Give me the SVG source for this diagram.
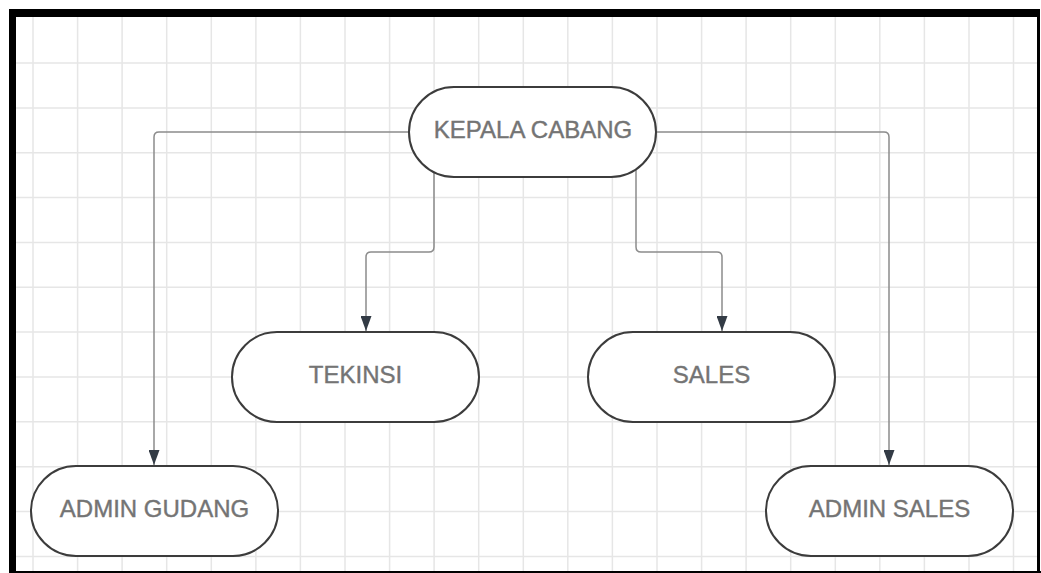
<svg xmlns="http://www.w3.org/2000/svg" width="1041" height="573" viewBox="0 0 1041 573">
  <style>
    .grid { stroke: #e6e6e6; stroke-width: 1.5; fill: none; }
    .frame { fill: #000000; }
    .node rect { fill: #ffffff; stroke: #3c3c3c; stroke-width: 2; }
    .node text { font-family: "Liberation Sans", Arial, sans-serif; font-size: 24px; fill: #747474; stroke: #747474; stroke-width: 0.4; text-anchor: middle; }
    .conn { fill: none; stroke: #8c8c8c; stroke-width: 1.5; marker-end: url(#arrow); }
  </style>
  <defs>
    <marker id="arrow" markerUnits="userSpaceOnUse" markerWidth="15" markerHeight="11" viewBox="0 0 15 11" refX="15" refY="5.5" orient="auto">
      <path d="M0,0 L15,5.5 L0,11 Z" fill="#333b45"/>
    </marker>
  </defs>
  <rect x="0" y="0" width="1041" height="573" fill="#ffffff"/>
  <g id="grid">
    <path class="grid" d="M33,17 V573 M77.6,17 V573 M122.1,17 V573 M166.7,17 V573 M211.3,17 V573 M255.9,17 V573 M300.4,17 V573 M345,17 V573 M389.6,17 V573 M434.1,17 V573 M478.7,17 V573 M523.3,17 V573 M567.8,17 V573 M612.4,17 V573 M657,17 V573 M701.6,17 V573 M746.1,17 V573 M790.7,17 V573 M835.3,17 V573 M879.8,17 V573 M924.4,17 V573 M969,17 V573 M1013.5,17 V573"/>
    <path class="grid" d="M16,63 H1037 M16,107.9 H1037 M16,152.7 H1037 M16,197.6 H1037 M16,242.4 H1037 M16,287.3 H1037 M16,332.1 H1037 M16,377 H1037 M16,421.8 H1037 M16,466.7 H1037 M16,511.5 H1037 M16,556.4 H1037"/>
  </g>
  <g id="frame">
    <rect class="frame" x="9" y="9" width="1031" height="8"/>
    <rect class="frame" x="9" y="9" width="7" height="564"/>
    <rect class="frame" x="1037" y="9" width="3" height="564"/>
    <rect class="frame" x="9" y="571" width="1032" height="2"/>
  </g>
  <g id="connectors">
    <path class="conn" d="M409,132 H159 Q154,132 154,137 V465"/>
    <path class="conn" d="M656,132 H884 Q889,132 889,137 V465"/>
    <path class="conn" d="M434,170 V247 Q434,252 429,252 H371 Q366,252 366,257 V331"/>
    <path class="conn" d="M636,170 V247 Q636,252 641,252 H717 Q722,252 722,257 V331"/>
  </g>
  <g id="kepala-cabang" class="node">
    <rect x="409" y="87" width="247" height="90" rx="45" ry="45"/>
    <text x="533" y="138">KEPALA CABANG</text>
  </g>
  <g id="tekinsi" class="node">
    <rect x="232" y="332" width="247" height="90" rx="45" ry="45"/>
    <text x="355.5" y="383">TEKINSI</text>
  </g>
  <g id="sales" class="node">
    <rect x="588" y="332" width="247" height="90" rx="45" ry="45"/>
    <text x="711.5" y="383">SALES</text>
  </g>
  <g id="admin-gudang" class="node">
    <rect x="31" y="466" width="247" height="90" rx="45" ry="45"/>
    <text x="154.5" y="517">ADMIN GUDANG</text>
  </g>
  <g id="admin-sales" class="node">
    <rect x="766" y="466" width="247" height="90" rx="45" ry="45"/>
    <text x="889.5" y="517">ADMIN SALES</text>
  </g>
</svg>
